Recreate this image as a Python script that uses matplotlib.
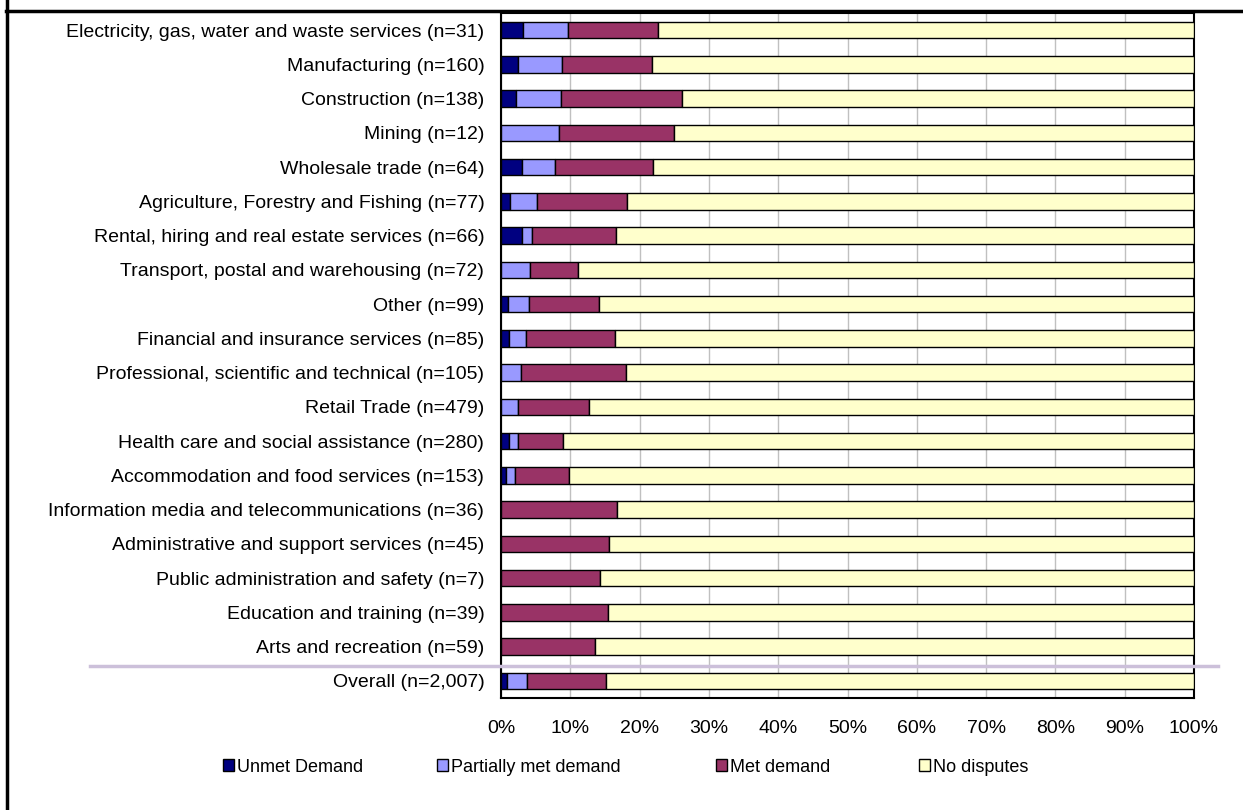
import matplotlib
matplotlib.use("Agg")
import matplotlib.pyplot as plt
from matplotlib.lines import Line2D
from matplotlib.patches import Patch
import numpy as np

plt.rcParams['font.family'] = ['Liberation Sans', 'DejaVu Sans']

categories = [
    "Electricity, gas, water and waste services (n=31)",
    "Manufacturing (n=160)",
    "Construction (n=138)",
    "Mining (n=12)",
    "Wholesale trade (n=64)",
    "Agriculture, Forestry and Fishing (n=77)",
    "Rental, hiring and real estate services (n=66)",
    "Transport, postal and warehousing (n=72)",
    "Other (n=99)",
    "Financial and insurance services (n=85)",
    "Professional, scientific and technical (n=105)",
    "Retail Trade (n=479)",
    "Health care and social assistance (n=280)",
    "Accommodation and food services (n=153)",
    "Information media and telecommunications (n=36)",
    "Administrative and support services (n=45)",
    "Public administration and safety (n=7)",
    "Education and training (n=39)",
    "Arts and recreation (n=59)",
    "Overall (n=2,007)",
]

unmet_demand = [3.2, 2.5, 2.2, 0.0, 3.1, 1.3, 3.0, 0.0, 1.0, 1.2,
                0.0, 0.0, 1.1, 0.7, 0.0, 0.0, 0.0, 0.0, 0.0, 0.9]
partially_met = [6.5, 6.3, 6.4, 8.3, 4.7, 3.9, 1.5, 4.2, 3.0, 2.4,
                 2.9, 2.5, 1.4, 1.3, 0.0, 0.0, 0.0, 0.0, 0.0, 2.9]
met_demand = [12.9, 13.0, 17.5, 16.7, 14.1, 13.0, 12.1, 6.9, 10.1, 12.9,
              15.2, 10.2, 6.4, 7.8, 16.7, 15.6, 14.3, 15.4, 13.6, 11.4]
no_disputes = [77.4, 78.2, 73.9, 75.0, 78.1, 81.8, 83.4, 88.9, 85.9, 83.5,
               81.9, 87.3, 91.1, 90.2, 83.3, 84.4, 85.7, 84.6, 86.4, 84.8]

series_names = ["Unmet Demand", "Partially met demand", "Met demand", "No disputes"]
series_colors = ["#000080", "#9999FF", "#993366", "#FFFFCC"]
tick_labels = ["0%", "10%", "20%", "30%", "40%", "50%", "60%", "70%", "80%", "90%", "100%"]

W, H = 1243, 810
fig = plt.figure(figsize=(W / 100, H / 100), dpi=100)
ax = fig.add_axes([501 / W, 1 - 698 / H, (1194 - 501) / W, (698 - 13) / H])

y = np.arange(len(categories))
left = np.zeros(len(categories))
for vals, name, col in zip([unmet_demand, partially_met, met_demand, no_disputes],
                           series_names, series_colors):
    vals = np.array(vals)
    ax.barh(y, vals, left=left, height=0.48, color=col, edgecolor="black",
            linewidth=1.0, zorder=3, label=name)
    left += vals

ax.set_ylim(len(categories) - 0.5, -0.5)
ax.set_xlim(0, 100)
ax.set_yticks(y)
ax.set_yticklabels(categories, fontsize=14)
ax.set_xticks(np.arange(0, 101, 10))
ax.set_xticklabels(tick_labels, fontsize=14)
ax.tick_params(axis="y", length=0, pad=12)
ax.tick_params(axis="x", length=0, pad=16)
ax.grid(axis="x", color="#c0c0c0", linewidth=1.0, zorder=0)
for s in ax.spines.values():
    s.set_color("black")
    s.set_linewidth(1.5)

# separator above the overall row
fig.add_artist(Line2D([90 / W, 1218 / W], [1 - 665.5 / H, 1 - 665.5 / H],
                      color="#CCC0DA", linewidth=2.5, transform=fig.transFigure))

# outer frame: top rule and left edge
fig.add_artist(Line2D([6 / W, 1], [1 - 11 / H, 1 - 11 / H], color="black",
                      linewidth=2.5, transform=fig.transFigure))
fig.add_artist(Line2D([6.5 / W, 6.5 / W], [0, 1], color="black",
                      linewidth=2.5, transform=fig.transFigure))

handles = [Patch(facecolor=c, edgecolor="black", linewidth=1.0) for c in series_colors]
leg_x = [223, 437, 716, 919]
for hx, h, name in zip(leg_x, handles, series_names):
    fig.legend([h], [name], loc="center left",
               bbox_to_anchor=(hx / W, 1 - 767 / H),
               frameon=False, fontsize=13, handlelength=0.6, handleheight=0.6,
               handletextpad=0.15, borderpad=0, borderaxespad=0)

fig.savefig("out.png", dpi=100)
